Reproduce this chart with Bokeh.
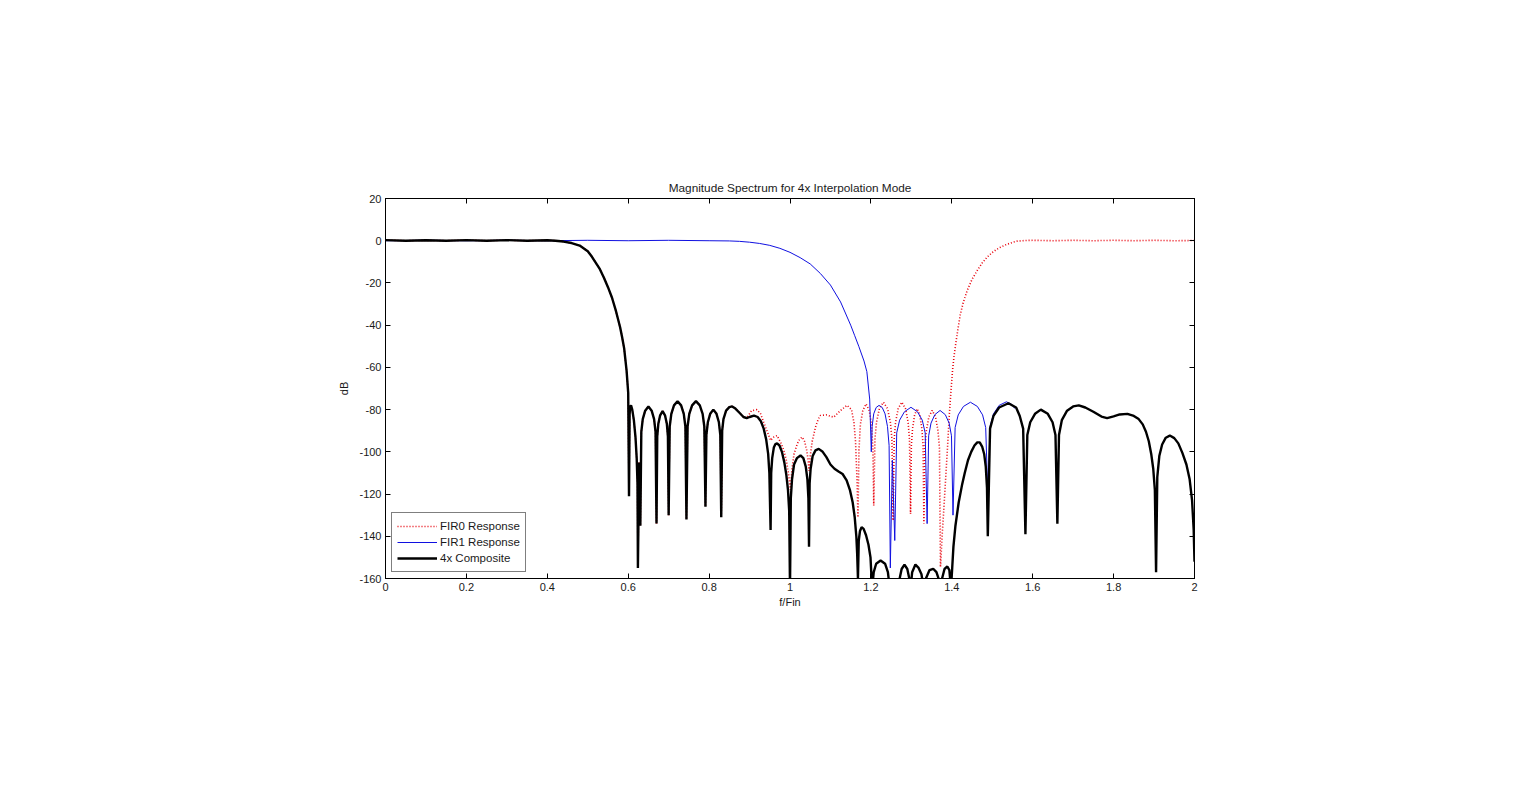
from bokeh.plotting import figure
from bokeh.models import (Range1d, FixedTicker, LinearAxis, Legend, LegendItem)
from bokeh.embed import file_html
from bokeh.resources import INLINE

TITLE = "Magnitude Spectrum for 4x Interpolation Mode"
X_LABEL = "f/Fin"
Y_LABEL = "dB"

x_ticks = [0, 0.2, 0.4, 0.6, 0.8, 1.0, 1.2, 1.4, 1.6, 1.8, 2.0]
x_tick_labels = ["0", "0.2", "0.4", "0.6", "0.8", "1", "1.2", "1.4", "1.6", "1.8", "2"]
y_ticks = [-160, -140, -120, -100, -80, -60, -40, -20, 0, 20]
y_tick_labels = ["-160", "-140", "-120", "-100", "-80", "-60", "-40", "-20", "0", "20"]

# 4x Composite (black): (f/Fin, dB)
comp = [
    (0.00, 0.3), (0.05, 0.0), (0.10, 0.2), (0.15, 0.0), (0.20, 0.3), (0.25, 0.0), (0.30, 0.3),
    (0.35, 0.0), (0.40, 0.2), (0.42, 0.0), (0.44, -0.4), (0.46, -1.1), (0.48, -2.3), (0.50, -5.0),
    (0.51, -7.5), (0.52, -10.5), (0.53, -13.5), (0.54, -17.5), (0.55, -22), (0.56, -27),
    (0.57, -33.5), (0.58, -41), (0.585, -45.7), (0.59, -51), (0.596, -61.5), (0.600, -72),
    (0.602, -121),
    (0.6035, -82), (0.605, -78.5), (0.607, -78), (0.610, -80), (0.614, -85), (0.618, -93),
    (0.621, -103), (0.623, -115), (0.624, -155), (0.627, -105), (0.630, -135),
    (0.6324, -90.5), (0.636, -84.5), (0.642, -80.5), (0.650, -78.5), (0.658, -80.5), (0.664, -84.5),
    (0.6676, -90.5), (0.670, -134),
    (0.6718, -92.7), (0.6745, -86.7), (0.679, -82.7), (0.685, -80.7), (0.691, -82.7), (0.6955, -86.7),
    (0.6982, -92.7), (0.700, -130),
    (0.7026, -88), (0.7066, -82), (0.7132, -78), (0.722, -76), (0.7308, -78), (0.7374, -82),
    (0.7414, -88), (0.744, -132),
    (0.7468, -88), (0.751, -82), (0.758, -78), (0.7675, -76), (0.777, -78), (0.784, -82),
    (0.7882, -88), (0.791, -126),
    (0.7933, -92), (0.7969, -86), (0.8027, -82), (0.8105, -80), (0.8183, -82), (0.8242, -86),
    (0.8277, -92), (0.830, -131),
    (0.8323, -90), (0.8355, -84.5), (0.842, -80.5), (0.850, -78.8), (0.857, -78.5), (0.865, -79.5),
    (0.875, -81.5), (0.885, -83.5), (0.893, -84), (0.900, -83.5), (0.911, -82.8), (0.920, -83.5),
    (0.928, -85.5), (0.935, -89), (0.941, -94), (0.946, -101), (0.949, -110), (0.952, -137),
    (0.9535, -110), (0.956, -103), (0.960, -98), (0.964, -96.3), (0.968, -96), (0.974, -97),
    (0.980, -100), (0.986, -105), (0.991, -111), (0.995, -118), (0.998, -128), (1.000, -165),
    (1.002, -122), (1.005, -113), (1.010, -106), (1.017, -103), (1.026, -101.7), (1.033, -103),
    (1.039, -107), (1.043, -113), (1.0455, -122), (1.047, -145),
    (1.0485, -115), (1.051, -108), (1.056, -102), (1.063, -99.3), (1.071, -98.6), (1.080, -99.8),
    (1.090, -102.5), (1.100, -106), (1.110, -108), (1.120, -109.3), (1.130, -110.5), (1.140, -113.5),
    (1.148, -118), (1.155, -124), (1.160, -131), (1.164, -140), (1.166, -148), (1.168, -160),
    (1.170, -142), (1.173, -137.5), (1.177, -135.7), (1.182, -136.5), (1.188, -139.5), (1.194, -144),
    (1.199, -150), (1.203, -165),
    (1.207, -157), (1.213, -153), (1.224, -151.5), (1.235, -153), (1.242, -157), (1.247, -165),
    (1.255, -163), (1.265, -162), (1.270, -161), (1.276, -155.5), (1.283, -153.4), (1.290, -155.5),
    (1.296, -161), (1.298, -165),
    (1.302, -157), (1.310, -153.4), (1.318, -155), (1.325, -158), (1.331, -165),
    (1.336, -160), (1.345, -156), (1.354, -155.4), (1.362, -157), (1.369, -161), (1.372, -165),
    (1.376, -160), (1.382, -155.5), (1.389, -154.3), (1.394, -156), (1.398, -165),
    (1.401, -155), (1.404, -145), (1.409, -135), (1.417, -124), (1.425, -116), (1.432, -110),
    (1.440, -104), (1.448, -100), (1.456, -97), (1.463, -95.5), (1.469, -95.5), (1.475, -97.5),
    (1.480, -101), (1.484, -107), (1.487, -117), (1.489, -140),
    (1.4946, -89), (1.503, -83), (1.517, -79), (1.540, -77), (1.559, -79), (1.568, -83),
    (1.5764, -89), (1.582, -139),
    (1.5867, -92), (1.5939, -86), (1.6057, -82), (1.620, -80), (1.6373, -82), (1.6491, -86),
    (1.6563, -92), (1.661, -134),
    (1.665, -92), (1.672, -85), (1.685, -80.5), (1.700, -78.5), (1.714, -78), (1.730, -79),
    (1.750, -81), (1.770, -83.3), (1.784, -84), (1.800, -83.2), (1.815, -82.3), (1.834, -82),
    (1.850, -83), (1.862, -84.5), (1.872, -87), (1.880, -90.5), (1.887, -95), (1.893, -101),
    (1.898, -108), (1.902, -118), (1.905, -157),
    (1.908, -112), (1.913, -102), (1.920, -96.5), (1.929, -93.3), (1.939, -92.3), (1.950, -93.5),
    (1.960, -96), (1.970, -100.5), (1.980, -106), (1.988, -113), (1.994, -123), (1.998, -137),
    (2.000, -152),
]

# FIR1 Response (blue)
fir1 = [
    (0.0, 0.0), (0.1, 0.2), (0.2, 0.0), (0.3, 0.2), (0.4, 0.0), (0.5, 0.2), (0.6, 0.0), (0.7, 0.2),
    (0.8, 0.0), (0.85, -0.1), (0.875, -0.3), (0.90, -0.7), (0.925, -1.3), (0.95, -2.2),
    (0.975, -3.6), (1.00, -5.5), (1.025, -8), (1.05, -11), (1.075, -15.5), (1.10, -21),
    (1.125, -29), (1.15, -40), (1.16, -45), (1.17, -50), (1.183, -57), (1.19, -62), (1.197, -75),
    (1.201, -100),
    (1.203, -88), (1.207, -82), (1.213, -79), (1.220, -78), (1.228, -79), (1.235, -82),
    (1.241, -88), (1.245, -97), (1.248, -155), (1.253, -104), (1.259, -142),
    (1.2638, -91), (1.271, -85), (1.283, -81), (1.299, -78.9), (1.315, -81), (1.327, -85),
    (1.3342, -91), (1.339, -134),
    (1.3428, -92.4), (1.3486, -86.4), (1.358, -82.4), (1.371, -80.4), (1.384, -82.4),
    (1.3934, -86.4), (1.3992, -92.4), (1.403, -130),
    (1.4082, -88.5), (1.4159, -82.5), (1.4288, -78.5), (1.446, -76.5), (1.4632, -78.5),
    (1.4761, -82.5), (1.4838, -88.5), (1.489, -120),
    (1.4946, -88), (1.503, -82), (1.517, -78), (1.535, -76.3), (1.548, -77.5), (1.556, -79.5),
]

# FIR0 Response (red): same as the composite below f/Fin = 0.895, then its own stop band
fir0_tail = [
    (0.905, -80.5), (0.918, -80), (0.927, -81.8), (0.935, -86), (0.945, -91), (0.952, -94.6),
    (0.960, -93), (0.968, -92.3), (0.978, -96), (0.985, -99.5), (0.991, -104), (0.996, -110),
    (1.001, -118), (1.005, -108), (1.010, -101), (1.018, -96.2), (1.024, -94), (1.030, -93),
    (1.036, -95), (1.041, -99), (1.045, -104), (1.047, -109), (1.050, -102), (1.055, -95),
    (1.063, -88.3), (1.070, -84.5), (1.075, -82.8), (1.090, -82.5), (1.108, -83.6),
    (1.125, -80.4), (1.141, -78), (1.152, -80), (1.158, -86), (1.162, -95), (1.166, -115),
    (1.168, -131),
    (1.1705, -99), (1.174, -87), (1.180, -80.5), (1.188, -77.3), (1.196, -80.5), (1.2015, -87),
    (1.205, -99), (1.207, -125.4),
    (1.210, -94), (1.2138, -86), (1.221, -79.5), (1.231, -76.5), (1.241, -79.5), (1.2482, -86),
    (1.252, -94), (1.255, -132.5),
    (1.2576, -94), (1.261, -86), (1.2675, -79.5), (1.2765, -76.5), (1.2855, -79.5), (1.292, -86),
    (1.2954, -94), (1.298, -129.4),
    (1.300, -97), (1.303, -89), (1.308, -82.6), (1.3145, -79.6), (1.321, -82.6), (1.326, -89),
    (1.329, -97), (1.331, -134),
    (1.3335, -98), (1.3372, -90), (1.3433, -83.4), (1.3515, -80.4), (1.3597, -83.4),
    (1.3658, -90), (1.3695, -98), (1.372, -154.6),
    (1.376, -140), (1.380, -128), (1.385, -112), (1.390, -96), (1.394, -82), (1.398, -71),
    (1.402, -61), (1.406, -54), (1.410, -48.5), (1.415, -42), (1.421, -35), (1.428, -29.5),
    (1.438, -23.6), (1.450, -18.3), (1.463, -14.1), (1.475, -10.6), (1.487, -7.8), (1.500, -5.6),
    (1.510, -4.2), (1.520, -3.1), (1.535, -1.8), (1.550, -0.8), (1.562, -0.2), (1.58, 0.1),
    (1.60, 0.2), (1.65, 0.0), (1.70, 0.2), (1.75, 0.0), (1.80, 0.2), (1.85, 0.0), (1.90, 0.2),
    (1.95, 0.0), (2.00, 0.1),
]

comp_f = [a for a, b in comp]
comp_db = [b for a, b in comp]
fir1_f = [a for a, b in fir1]
fir1_db = [b for a, b in fir1]
fir0_pts = [pt for pt in comp if pt[0] < 0.895] + fir0_tail
fir0_f = [a for a, b in fir0_pts]
fir0_db = [b for a, b in fir0_pts]

FONT = "Liberation Sans"
TXT = "#1a1a1a"

W, H = 1518, 770
L, T = 385, 198
FW, FH = 809, 380

p = figure(width=W, height=H, output_backend="svg", toolbar_location=None,
           x_range=Range1d(0, 2), y_range=Range1d(-160, 20),
           min_border_left=L, min_border_right=W - L - FW,
           min_border_top=T, min_border_bottom=H - T - FH)
p.title.text = TITLE
p.title.align = "center"
p.title.text_font = FONT
p.title.text_font_size = "11.8px"
p.title.text_font_style = "normal"
p.title.text_color = TXT
p.title.standoff = 8
p.grid.visible = False
p.outline_line_color = "black"
p.outline_line_width = 1
p.background_fill_color = "white"
p.border_fill_color = "white"


def style_axis(ax, labels, show):
    ax.axis_line_color = "black"
    ax.major_tick_line_color = "black"
    ax.major_tick_in = 5
    ax.major_tick_out = 0
    ax.minor_tick_line_color = None
    ax.major_label_text_font = FONT
    ax.major_label_text_color = TXT
    ax.major_label_standoff = 4
    if show:
        ax.major_label_text_font_size = "11px"
        ax.major_label_overrides = labels
    else:
        ax.major_label_text_font_size = "0px"
        ax.major_label_overrides = {k: "" for k in labels}
    ax.axis_label_text_font = FONT
    ax.axis_label_text_font_size = "11px"
    ax.axis_label_text_font_style = "normal"
    ax.axis_label_text_color = TXT


x_over = {float(t): l for t, l in zip(x_ticks, x_tick_labels)}
y_over = {float(t): l for t, l in zip(y_ticks, y_tick_labels)}

p.xaxis.ticker = FixedTicker(ticks=x_ticks)
p.yaxis.ticker = FixedTicker(ticks=y_ticks)
for ax in p.xaxis:
    style_axis(ax, x_over, True)
    ax.axis_label = X_LABEL
    ax.axis_label_standoff = 2
for ax in p.yaxis:
    style_axis(ax, y_over, True)
    ax.axis_label = Y_LABEL
    ax.axis_label_standoff = 6

top = LinearAxis(ticker=FixedTicker(ticks=x_ticks))
style_axis(top, x_over, False)
p.add_layout(top, "above")
right = LinearAxis(ticker=FixedTicker(ticks=y_ticks))
style_axis(right, y_over, False)
p.add_layout(right, "right")

r0 = p.line(fir0_f, fir0_db, line_color="#e8000b", line_width=1.6, line_dash="1 2")
r1 = p.line(fir1_f, fir1_db, line_color="#1010e0", line_width=1)
r2 = p.line(comp_f, comp_db, line_color="black", line_width=2.4)

legend = Legend(items=[LegendItem(label="FIR0 Response", renderers=[r0]),
                       LegendItem(label="FIR1 Response", renderers=[r1]),
                       LegendItem(label="4x Composite", renderers=[r2])],
                location="bottom_left", margin=6, padding=5, spacing=0,
                glyph_width=40, glyph_height=16, label_height=16, label_standoff=3,
                label_text_font=FONT, label_text_font_size="11.5px", label_text_color=TXT,
                border_line_color="black", border_line_width=1,
                background_fill_color="white", background_fill_alpha=1)
p.add_layout(legend, "center")

open("out.html", "w").write(file_html(p, INLINE))
